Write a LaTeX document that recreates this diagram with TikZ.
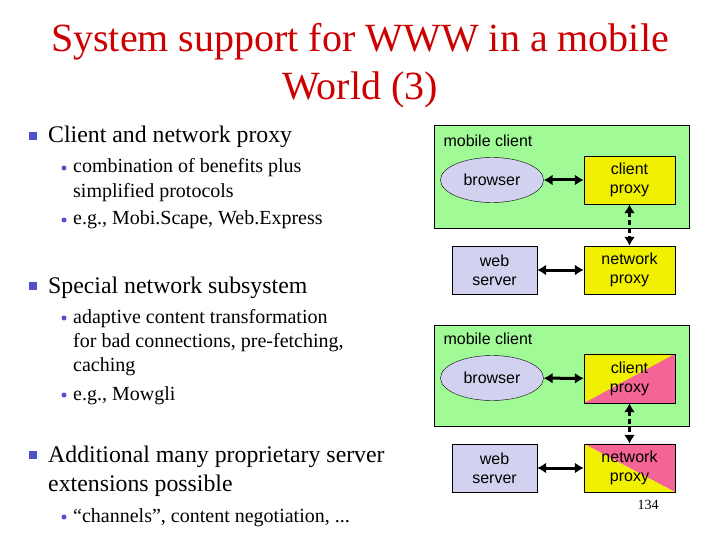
\documentclass[tikz,border=0pt]{standalone}
\usepackage{fontspec}
\setmainfont{Liberation Serif}
\newfontfamily\diagfont{Liberation Sans}
\usetikzlibrary{arrows.meta,shapes.geometric}
\definecolor{titlered}{RGB}{204,0,0}
\definecolor{bulletblue}{RGB}{80,80,200}
\definecolor{boxgreen}{RGB}{160,250,150}
\definecolor{boxlilac}{RGB}{210,210,240}
\definecolor{boxyellow}{RGB}{240,240,0}
\definecolor{boxpink}{RGB}{245,100,150}
\tikzset{
  title/.style={font=\fontsize{40}{40}\selectfont, text=titlered, anchor=base},
  lvlone/.style={font=\fontsize{23.8}{24}\selectfont, anchor=base west, inner sep=0},
  lvltwo/.style={font=\fontsize{20}{20}\selectfont, anchor=base west, inner sep=0},
  sq/.style={fill=bulletblue, minimum size=8pt, inner sep=0},
  dot/.style={circle, fill=bulletblue, minimum size=5pt, inner sep=0},
  dia/.style={font=\diagfont\fontsize{16}{19}\selectfont, align=center},
  green/.style={fill=boxgreen, draw=black, line width=0.6pt},
  arr/.style={<->, >={Latex[length=9pt,width=11pt]}, line width=3pt},
  darr/.style={arr, dash pattern=on 5pt off 3pt},
}
\begin{document}
\begin{tikzpicture}[x=1pt,y=-1pt]
\useasboundingbox (0,0) rectangle (720,540);
% title
\node[title] (t1) at (360,52) {System support for WWW in a mobile};
\node[title] (t2) at (360,100) {World (3)};
% left bullets
\node[sq] (b1) at (33,136) {};
\node[lvlone] (l1) at (48,143) {Client and network proxy};
\node[dot] (d1) at (64,168) {};
\node[lvltwo] (l11) at (73,173) {combination of benefits plus};
\node[lvltwo] (l12) at (73,197) {simplified protocols};
\node[dot] (d2) at (64,220) {};
\node[lvltwo] (l13) at (73,225) {e.g., Mobi.Scape, Web.Express};
\node[sq] (b2) at (33,286) {};
\node[lvlone] (l2) at (48,293) {Special network subsystem};
\node[dot] (d3) at (64,318) {};
\node[lvltwo] (l21) at (73,323) {adaptive content transformation};
\node[lvltwo] (l22) at (73,347) {for bad connections, pre-fetching,};
\node[lvltwo] (l23) at (73,371) {caching};
\node[dot] (d4) at (64,395) {};
\node[lvltwo] (l24) at (73,400) {e.g., Mowgli};
\node[sq] (b3) at (33,455) {};
\node[lvlone] (l3) at (48,462) {Additional many proprietary server};
\node[lvlone] (l31) at (48,491) {extensions possible};
\node[dot] (d5) at (64,517) {};
\node[lvltwo] (l32) at (73,522) {“channels”, content negotiation, ...};
% upper diagram
\draw[green] (434,125) rectangle (689,228);
\node[dia, anchor=west] (mc1) at (440,141) {mobile client};
\node[dia, ellipse, draw, fill=boxlilac, minimum width=103pt, minimum height=45pt, inner sep=0] (br1) at (492,180) {browser};
\node[dia, draw, fill=boxyellow, minimum width=91pt, minimum height=48pt] (cp1) at (629.5,180) {client\\proxy};
\node[dia, draw, fill=boxyellow, minimum width=91pt, minimum height=48pt] (np1) at (629.5,270) {network\\proxy};
\node[dia, draw, fill=boxlilac, minimum width=85pt, minimum height=48pt] (ws1) at (494.5,270) {web\\server};
\draw[arr] (br1) -- (cp1);
\draw[darr] (cp1) -- (np1);
\draw[arr] (ws1) -- (np1);
% lower diagram
\draw[green] (434,325) rectangle (689,426);
\node[dia, anchor=west] (mc2) at (440,339) {mobile client};
\node[dia, ellipse, draw, fill=boxlilac, minimum width=103pt, minimum height=45pt, inner sep=0] (br2) at (492,378) {browser};
\node[dia, draw, minimum width=91pt, minimum height=49pt] (cp2) at (629.5,378.5) {};
\fill[boxyellow] (cp2.south west) -- (cp2.north east) -- (cp2.north west) -- cycle;
\fill[boxpink] (cp2.south west) -- (cp2.north east) -- (cp2.south east) -- cycle;
\draw (cp2.south west) rectangle (cp2.north east);
\node[dia] (cp2t) at (cp2) {client\\proxy};
\node[dia, draw, minimum width=91pt, minimum height=48pt] (np2) at (629.5,468) {};
\fill[boxpink] (np2.north west) -- (np2.north east) -- (np2.south east) -- cycle;
\fill[boxyellow] (np2.north west) -- (np2.south west) -- (np2.south east) -- cycle;
\draw (np2.south west) rectangle (np2.north east);
\node[dia] (np2t) at (np2) {network\\proxy};
\node[dia, draw, fill=boxlilac, minimum width=85pt, minimum height=48pt] (ws2) at (494.5,468) {web\\server};
\draw[arr] (br2) -- (cp2);
\draw[darr] (cp2) -- (np2);
\draw[arr] (ws2) -- (np2);
\node[font=\fontsize{14}{14}\selectfont] (pg) at (648,505) {134};
\end{tikzpicture}
\end{document}
